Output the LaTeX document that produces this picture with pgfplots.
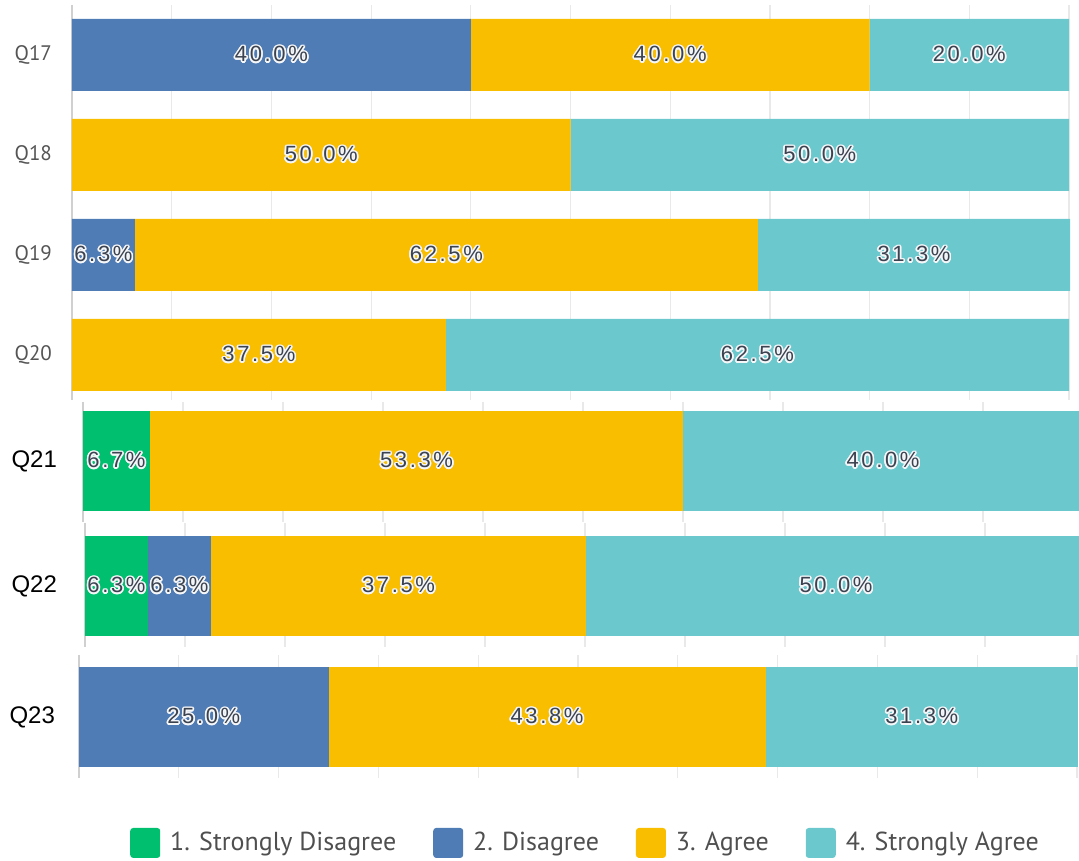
\documentclass[border=0pt]{standalone}
\usepackage{pgfplots}
\pgfplotsset{compat=1.18}
\usepackage{fontspec}
\usepackage{contour}
\setmainfont{Liberation Sans}
\newfontfamily\labfamily[LetterSpace=12]{Liberation Sans}
\newfontfamily\ssfamily{PT Sans}
\newcommand\labfont{\labfamily\fontsize{11pt}{12pt}\selectfont}
\newcommand\qfont{\ssfamily\fontsize{10.5pt}{12pt}\selectfont}
\newcommand\qbfont{\fontsize{12pt}{14pt}\selectfont}
\newcommand\legfont{\ssfamily\fontsize{13pt}{15pt}\selectfont}
\contourlength{0.8pt}
\definecolor{cgreen}{HTML}{00BF6F}
\definecolor{cblue}{HTML}{507CB6}
\definecolor{cyellow}{HTML}{F9BE00}
\definecolor{cteal}{HTML}{6BC8CD}
\definecolor{gridc}{HTML}{E9E9E9}
\definecolor{axc}{HTML}{D0D0D0}
\definecolor{labc}{HTML}{3B4250}
\definecolor{qc}{HTML}{555555}
\definecolor{legc}{HTML}{4F4F4F}
\definecolor{haloc}{HTML}{F4F6F8}
\pgfplotsset{
  base/.style={
    xbar stacked, scale only axis, anchor=south west,
    xmin=0, xmax=100.2, enlargelimits=false, y dir=reverse,
    axis line style={draw=none},
    xtick={10,20,...,100}, xticklabels={}, major tick length=0pt,
    xmajorgrids, grid style={color=gridc, line width=0.6pt},
    extra x ticks={0}, extra x tick labels={},
    extra x tick style={grid style={color=axc, line width=1pt}},
    point meta=explicit symbolic,
    nodes near coords={\labfont\contour{haloc}{\pgfplotspointmeta}},
    every node near coord/.append style={text=labc},
    every axis plot/.append style={draw=none},
  },
  sq/.style={legend image code/.code={\path[fill, draw=none, rounded corners=1.5pt] (0pt,-7.5pt) rectangle (15pt,7.5pt);}},
}
\begin{document}
\begin{tikzpicture}
\path[use as bounding box] (0,0) rectangle (539.5pt,430pt);

% Q17-Q20
\begin{axis}[base, at={(36pt,230pt)}, width=499.5pt, height=197.5pt,
  ymin=-0.5, ymax=3.45, ytick={0,1,2,3}, yticklabels={Q17,Q18,Q19,Q20},
  bar width=36pt, y tick label style={font=\qfont, text=qc, xshift=-6.5pt}]
\addplot[fill=cblue] coordinates {(40,0) [40.0\%] (0,1) [] (6.3,2) [6.3\%] (0,3) []};
\addplot[fill=cyellow] coordinates {(40,0) [40.0\%] (50,1) [50.0\%] (62.5,2) [62.5\%] (37.5,3) [37.5\%]};
\addplot[fill=cteal] coordinates {(20,0) [20.0\%] (50,1) [50.0\%] (31.3,2) [31.3\%] (62.5,3) [62.5\%]};
\end{axis}

% Q21
\begin{axis}[base, at={(41.5pt,169pt)}, width=501pt, height=60pt,
  ymin=-0.59, ymax=0.61, ytick={0}, yticklabels={Q21},
  bar width=50pt, y tick label style={font=\qbfont, text=black, xshift=-9.5pt}]
\addplot[fill=cgreen] coordinates {(6.7,0) [6.7\%]};
\addplot[fill=cyellow] coordinates {(53.3,0) [53.3\%]};
\addplot[fill=cteal] coordinates {(40.0,0) [40.0\%]};
\end{axis}

% Q22
\begin{axis}[base, at={(42.5pt,106.5pt)}, width=501pt, height=62pt,
  ymin=-0.63, ymax=0.61, ytick={0}, yticklabels={Q22},
  bar width=50pt, y tick label style={font=\qbfont, text=black, xshift=-10.5pt}]
\addplot[fill=cgreen] coordinates {(6.3,0) [6.3\%]};
\addplot[fill=cblue] coordinates {(6.3,0) [6.3\%]};
\addplot[fill=cyellow] coordinates {(37.5,0) [37.5\%]};
\addplot[fill=cteal] coordinates {(50.0,0) [50.0\%]};
\end{axis}

% Q23
\begin{axis}[base, at={(39.5pt,41pt)}, width=500pt, height=61.5pt,
  ymin=-0.62, ymax=0.61, ytick={0}, yticklabels={Q23},
  bar width=50pt, y tick label style={font=\qbfont, text=black, xshift=-8.5pt},
  legend columns=4, legend cell align=left,
  legend style={at={(0.5075,-0.528)}, anchor=center, draw=none, fill=none,
    font=\legfont, text=legc,
    /tikz/every odd column/.append style={column sep=3pt},
    /tikz/every even column/.append style={column sep=16.5pt}}]
\addplot[fill=cgreen, sq] coordinates {(0,0) []};
\addplot[fill=cblue, sq] coordinates {(25.0,0) [25.0\%]};
\addplot[fill=cyellow, sq] coordinates {(43.8,0) [43.8\%]};
\addplot[fill=cteal, sq] coordinates {(31.3,0) [31.3\%]};
\legend{1. Strongly Disagree, 2. Disagree, 3. Agree, 4. Strongly Agree}
\end{axis}
\end{tikzpicture}
\end{document}
